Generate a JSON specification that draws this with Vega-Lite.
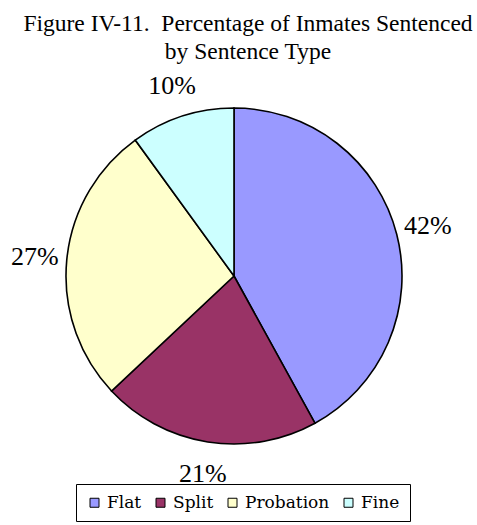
{
  "$schema": "https://vega.github.io/schema/vega-lite/v6.json",
  "width": 468,
  "height": 432,
  "autosize": "none",
  "padding": {"left": 0, "top": 60, "right": 9, "bottom": 33},
  "background": "white",
  "config": {
    "font": "Liberation Serif"
  },
  "title": {
    "text": ["Figure IV-11.\u00a0 Percentage of Inmates Sentenced", "by Sentence Type"],
    "font": "Liberation Serif",
    "fontSize": 23.5,
    "fontWeight": "normal",
    "color": "black",
    "anchor": "middle",
    "dx": 14,
    "offset": -3,
    "lineHeight": 28
  },
  "data": {
    "values": [
      {"type": "Flat", "pct": 42, "label": "42%", "ord": 1},
      {"type": "Split", "pct": 21, "label": "21%", "ord": 2},
      {"type": "Probation", "pct": 27, "label": "27%", "ord": 3},
      {"type": "Fine", "pct": 10, "label": "10%", "ord": 4}
    ]
  },
  "encoding": {
    "theta": {"field": "pct", "type": "quantitative", "stack": true},
    "order": {"field": "ord", "type": "quantitative"}
  },
  "layer": [
    {
      "mark": {"type": "arc", "outerRadius": 168, "stroke": "black", "strokeWidth": 1.6},
      "encoding": {
        "color": {
          "field": "type",
          "type": "nominal",
          "scale": {"domain": ["Flat", "Split", "Probation", "Fine"], "range": ["#9999FF", "#993366", "#FFFFCC", "#CCFFFF"]},
          "legend": {
            "title": null,
            "orient": "none",
            "direction": "horizontal",
            "legendX": 76,
            "legendY": 424,
            "symbolType": "square",
            "symbolSize": 81,
            "symbolStrokeColor": "black",
            "symbolStrokeWidth": 1,
            "labelFont": "DejaVu Serif",
            "labelFontSize": 17,
            "labelColor": "black",
            "labelOffset": 4,
            "columnPadding": 10,
            "strokeColor": "black",
            "fillColor": "white",
            "padding": 10
          }
        }
      }
    },
    {
      "mark": {"type": "text", "radius": 200, "font": "Liberation Serif", "fontSize": 26, "color": "black"},
      "encoding": {"text": {"field": "label"}}
    }
  ]
}
